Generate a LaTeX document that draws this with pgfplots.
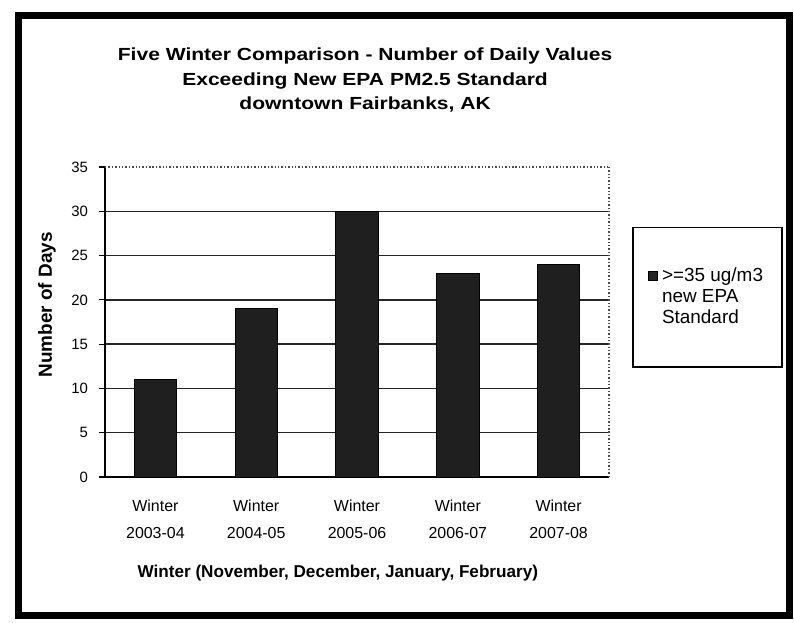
\documentclass[border=0pt]{standalone}
\usepackage{fontspec}
\setmainfont{Liberation Sans}
\newfontfamily\titlefont[FakeStretch=1.2]{Liberation Sans}
\usepackage{pgfplots}
\pgfplotsset{compat=1.18}

\begin{document}
\begin{tikzpicture}
% page size = 794x623 px at 0.5bp/px
\path (0,0) rectangle (397bp,311.5bp);
\draw[line width=3.5bp] (9bp,3.5bp) rectangle (394.5bp,303.5bp);

\begin{axis}[
  at={(52.5bp,73bp)}, anchor=south west,
  scale only axis, width=252bp, height=155bp,
  ymin=0, ymax=35, xmin=-0.5, xmax=4.5,
  ytick={0,5,...,30},
  extra y ticks={35},
  extra y tick style={grid=major, major grid style={densely dotted, black!70, line width=0.6bp}},
  extra x ticks={4.5}, extra x tick labels={},
  extra x tick style={grid=major, major grid style={densely dotted, black!70, line width=0.6bp}, tick style={draw=none}},
  ymajorgrids,
  major grid style={black!85, line width=0.7bp},
  axis lines*=left,
  axis line style={black, line width=0.8bp},
  xtick=data,
  xticklabels={Winter\\2003-04,Winter\\2004-05,Winter\\2005-06,Winter\\2006-07,Winter\\2007-08},
  xtick style={draw=none},
  ytick style={black, line width=0.6bp},
  tick align=outside, major tick length=3bp,
  xticklabel style={align=center, font=\fontsize{8}{13.5}\selectfont, yshift=-5bp},
  yticklabel style={font=\fontsize{7.5}{9}\selectfont, xshift=-2bp},
  /pgf/number format/assume math mode=true,
  ylabel={\bfseries Number of Days},
  every axis y label/.style={at={(axis description cs:-0.115,0.555)}, rotate=90, anchor=center, font=\fontsize{9.5}{11}\selectfont},
  xlabel={\bfseries Winter (November, December, January, February)},
  every axis x label/.style={at={(axis description cs:0.462,-0.31)}, anchor=center, font=\fontsize{8.6}{10}\selectfont},
  title={Five Winter Comparison - Number of Daily Values\\Exceeding New EPA PM2.5 Standard\\downtown Fairbanks, AK},
  title style={at={(axis description cs:0.516,1.242)}, anchor=center, yshift=0pt, align=center,
    font=\titlefont\bfseries\fontsize{8.8}{12.3}\selectfont},
  legend style={at={(1.1955,0.58)}, anchor=center, draw=black, line width=0.8bp,
    font=\fontsize{9.5}{10.5}\selectfont, inner xsep=7.5bp, inner ysep=18bp, row sep=-1.5bp,
    cells={anchor=west}},
  legend image code/.code={\draw[fill=black!85, draw=black, line width=0.4bp] (0bp,-2.3bp) rectangle (4.6bp,2.3bp);},
]
\addplot[ybar, bar width=0.42, fill=black!88, draw=black] coordinates {
  (0,11) (1,19) (2,30) (3,23) (4,24)
};
\addlegendentry{>=35 ug/m3}
\addlegendimage{empty legend}
\addlegendentry{new EPA}
\addlegendimage{empty legend}
\addlegendentry{Standard}
\end{axis}
\end{tikzpicture}
\end{document}
